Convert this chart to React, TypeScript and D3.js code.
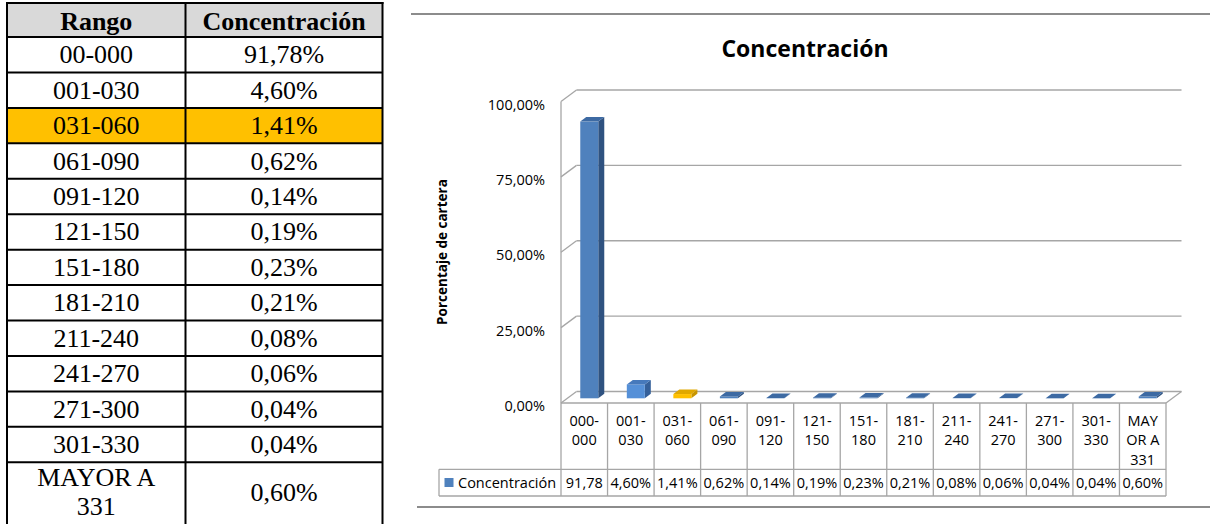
import React from "react";
import * as d3 from "d3";

// Left-hand summary table
const tableHeaders = ["Rango", "Concentración"];
const tableRanges = [
  "00-000", "001-030", "031-060", "061-090", "091-120", "121-150", "151-180",
  "181-210", "211-240", "241-270", "271-300", "301-330", "MAYOR A 331",
];
const tableValues = [
  "91,78%", "4,60%", "1,41%", "0,62%", "0,14%", "0,19%", "0,23%",
  "0,21%", "0,08%", "0,06%", "0,04%", "0,04%", "0,60%",
];
const highlightedRow = 2;

// Chart series
const chartTitle = "Concentración";
const yAxisTitle = "Porcentaje de cartera";
const seriesName = "Concentración";
const chartCategories = [
  "000-000", "001-030", "031-060", "061-090", "091-120", "121-150", "151-180",
  "181-210", "211-240", "241-270", "271-300", "301-330", "MAYOR A 331",
];
const categoryLines = [
  ["000-", "000"], ["001-", "030"], ["031-", "060"], ["061-", "090"],
  ["091-", "120"], ["121-", "150"], ["151-", "180"], ["181-", "210"],
  ["211-", "240"], ["241-", "270"], ["271-", "300"], ["301-", "330"],
  ["MAY", "OR A", "331"],
];
const concentration = [
  0.9178, 0.046, 0.0141, 0.0062, 0.0014, 0.0019, 0.0023,
  0.0021, 0.0008, 0.0006, 0.0004, 0.0004, 0.006,
];
const yTicks = [0, 0.25, 0.5, 0.75, 1];

const locale = d3.formatLocale({
  decimal: ",",
  thousands: ".",
  grouping: [3],
  currency: ["$", ""],
});
const pct = locale.format(".2%");

const SANS = "'Open Sans', 'Liberation Sans', sans-serif";
const SERIF = "'Liberation Serif', 'Times New Roman', serif";

const palettes = [
  { front: "#4F81BD", side: "#2F5280", top: "#3D6AA3" },
  { front: "#5590D8", side: "#35609A", top: "#4679BC" },
  { front: "#FFC000", side: "#C79500", top: "#E0A800" },
];

export default function App() {
  const W = 1210;
  const H = 524;

  // ---- table layout ----
  const tL = 7, tM = 185.5, tR = 382.5, tTop = 3, headH = 34;
  const rowH = 35.44;
  const rowTop = (i: number) => tTop + headH + i * rowH;
  const tBottom = 525;

  // ---- chart layout ----
  const x = d3.scaleBand<string>().domain(chartCategories).range([561, 1166]);
  const y = d3.scaleLinear().domain([0, 1]).range([403, 101.5]);
  const DX = 15.5, DY = -11.5; // wall depth
  const BX = 5, BY = -4.7; // bar placement inside the depth
  const bdx = 6, bdy = -4.5; // bar depth
  const barW = 18;
  const grid = "#A6A6A6";

  const labelRowBottom = 469.3;
  const legendBottom = 496;
  const legendLeft = 439;

  return (
    <svg
      width={W}
      height={H}
      style={{ position: "absolute", left: 0, top: 0, background: "#fff" }}
    >
      {/* ===== table ===== */}
      <rect x={tL} y={tTop} width={tR - tL} height={headH} fill="#D9D9D9" />
      <rect
        x={tL}
        y={rowTop(highlightedRow)}
        width={tR - tL}
        height={rowH}
        fill="#FFC000"
      />
      {tableHeaders.map((h, j) => (
        <text
          key={h}
          x={j === 0 ? (tL + tM) / 2 : (tM + tR) / 2}
          y={tTop + headH / 2 + 1}
          textAnchor="middle"
          dominantBaseline="central"
          fontFamily={SERIF}
          fontWeight="bold"
          fontSize={26}
        >
          {h}
        </text>
      ))}
      {tableRanges.map((r, i) => {
        const top = rowTop(i);
        const last = i === tableRanges.length - 1;
        const h = last ? tBottom - top : rowH;
        const cy = top + h / 2;
        const parts = last ? ["MAYOR A", "331"] : [r];
        return (
          <g key={r} fontFamily={SERIF} fontSize={26}>
            {parts.map((p, k) => (
              <text
                key={k}
                x={(tL + tM) / 2}
                y={cy + (k - (parts.length - 1) / 2) * 29 - 2 * (parts.length - 1)}
                textAnchor="middle"
                dominantBaseline="central"
              >
                {p}
              </text>
            ))}
            <text
              x={(tM + tR) / 2}
              y={cy + (last ? -1 : 0)}
              textAnchor="middle"
              dominantBaseline="central"
            >
              {tableValues[i]}
            </text>
          </g>
        );
      })}
      <g stroke="#000" strokeWidth={2}>
        <line x1={tL} x2={tL} y1={tTop - 1} y2={tBottom} />
        <line x1={tM} x2={tM} y1={tTop - 1} y2={tBottom} />
        <line x1={tR} x2={tR} y1={tTop - 1} y2={tBottom} />
        <line x1={tL - 1} x2={tR + 1} y1={tTop} y2={tTop} />
        {d3.range(tableRanges.length).map((i) => (
          <line key={i} x1={tL} x2={tR} y1={rowTop(i)} y2={rowTop(i)} />
        ))}
      </g>

      {/* ===== chart frame ===== */}
      <line x1={411} x2={W} y1={14} y2={14} stroke="#8C8C8C" strokeWidth={2} />
      <line x1={417} x2={W} y1={507} y2={507} stroke="#8C8C8C" strokeWidth={2} />

      <text
        x={805}
        y={48}
        textAnchor="middle"
        dominantBaseline="central"
        fontFamily={SANS}
        fontWeight="bold"
        fontSize={23}
      >
        {chartTitle}
      </text>

      {/* walls and gridlines */}
      <g stroke={grid} strokeWidth={1.3} fill="none">
        <line x1={561} x2={561} y1={y(1)} y2={y(0)} />
        {yTicks.map((t) => (
          <g key={t}>
            <line x1={561} y1={y(t)} x2={561 + DX} y2={y(t) + DY} />
            <line x1={561 + DX} y1={y(t) + DY} x2={1166 + DX} y2={y(t) + DY} />
          </g>
        ))}
        <line x1={1166} y1={y(0)} x2={1166 + DX} y2={y(0) + DY} />
      </g>

      {/* y ticks */}
      {yTicks.map((t) => (
        <text
          key={t}
          x={545}
          y={y(t) + 2.5}
          textAnchor="end"
          dominantBaseline="central"
          fontFamily={SANS}
          fontSize={14.5}
          fill="#000"
        >
          {pct(t)}
        </text>
      ))}
      <text
        transform={`translate(442,252) rotate(-90)`}
        textAnchor="middle"
        dominantBaseline="central"
        fontFamily={SANS}
        fontWeight="bold"
        fontSize={13.5}
      >
        {yAxisTitle}
      </text>

      {/* 3D bars */}
      {chartCategories.map((c, i) => {
        const v = concentration[i];
        const pal = i === highlightedRow ? palettes[2] : i === 1 ? palettes[1] : palettes[0];
        const x0 = (x(c) as number) + x.bandwidth() / 2 - barW / 2 + BX;
        const x1 = x0 + barW;
        const base = y(0) + BY;
        const top = base - (y(0) - y(v));
        return (
          <g key={c}>
            <polygon
              points={`${x1},${top} ${x1 + bdx},${top + bdy} ${x1 + bdx},${base + bdy} ${x1},${base}`}
              fill={pal.side}
            />
            <rect x={x0} y={top} width={barW} height={base - top} fill={pal.front} />
            <polygon
              points={`${x0},${top} ${x1},${top} ${x1 + bdx},${top + bdy} ${x0 + bdx},${top + bdy}`}
              fill={pal.top}
            />
          </g>
        );
      })}

      {/* data table under the chart */}
      <g stroke={grid} strokeWidth={1.3}>
        <line x1={561} x2={1166} y1={y(0)} y2={y(0)} />
        {chartCategories.map((c) => (
          <line
            key={c}
            x1={x(c) as number}
            x2={x(c) as number}
            y1={y(0)}
            y2={legendBottom}
          />
        ))}
        <line x1={1166} x2={1166} y1={y(0)} y2={legendBottom} />
        <line x1={legendLeft} x2={1166} y1={labelRowBottom} y2={labelRowBottom} />
        <line x1={legendLeft} x2={1166} y1={legendBottom} y2={legendBottom} />
        <line x1={legendLeft} x2={legendLeft} y1={labelRowBottom} y2={legendBottom} />
      </g>
      {chartCategories.map((c, i) => {
        const cx = (x(c) as number) + x.bandwidth() / 2;
        return (
          <g key={c} fontFamily={SANS} fontSize={14.5} textAnchor="middle">
            {categoryLines[i].map((ln, k) => (
              <text key={k} x={cx} y={420 + k * 19.5} dominantBaseline="central">
                {ln}
              </text>
            ))}
          </g>
        );
      })}
      <rect x={444.5} y={478} width={9} height={9} fill={palettes[0].front} />
      <text
        x={458}
        y={482.7}
        dominantBaseline="central"
        fontFamily={SANS}
        fontSize={14.5}
      >
        {seriesName}
      </text>
      {chartCategories.map((c, i) => {
        const cx = (x(c) as number) + x.bandwidth() / 2;
        const full = pct(concentration[i]);
        // cell too narrow for the whole value: Excel wraps the "%" out of view
        const shown = full.length > 5 ? full.replace("%", "") : full;
        return (
          <text
            key={c}
            x={cx}
            y={482.7}
            textAnchor="middle"
            dominantBaseline="central"
            fontFamily={SANS}
            fontSize={14.5}
          >
            {shown}
          </text>
        );
      })}
    </svg>
  );
}
